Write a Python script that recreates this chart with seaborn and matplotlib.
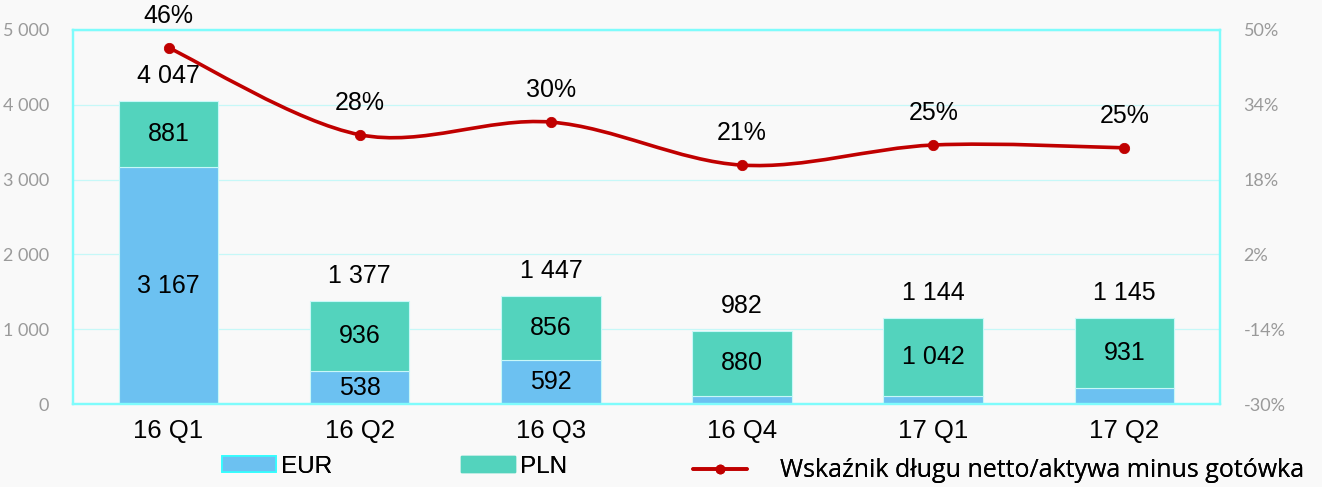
import matplotlib.pyplot as plt
import seaborn as sns
import pandas as pd
from matplotlib import font_manager
from matplotlib.textpath import TextPath
from matplotlib.path import Path
from matplotlib.patches import PathPatch, Patch
from matplotlib.lines import Line2D
from matplotlib.ticker import FuncFormatter

sns.set_style("white")
plt.rcParams["text.color"] = "black"

# Dane
kwartaly = ["16 Q1", "16 Q2", "16 Q3", "16 Q4", "17 Q1", "17 Q2"]
eur = [3166, 441, 591, 102, 102, 214]
pln = [881, 936, 856, 880, 1042, 931]
eur_etykiety = ["3 167", "538", "592", "", "", ""]
pln_etykiety = ["881", "936", "856", "880", "1 042", "931"]
suma_etykiety = ["4 047", "1 377", "1 447", "982", "1 144", "1 145"]
wskaznik = [46.2, 27.6, 30.3, 21.1, 25.4, 24.8]
wskaznik_etykiety = ["46%", "28%", "30%", "21%", "25%", "25%"]
legenda_teksty = ["EUR", "PLN", "Wskaźnik długu netto/aktywa minus gotówka"]

df = pd.DataFrame({"kw": kwartaly, "EUR": eur, "PLN": pln})
suma = [e + p for e, p in zip(eur, pln)]

tlo = "#f9f9f9"
kol_eur = "#6cc1f1"
kol_pln = "#53d3bd"
kol_linia = "#c00000"
kol_ramka = "#7ffcfc"
kol_os = "#9a9a9a"
DPI = 100

# czcionka opisu wskaznika - rozmiar dobrany do szerokosci ok. 538 px
opis_font = font_manager.FontProperties(family=["Open Sans", "Noto Sans", "DejaVu Sans"], size=10)
szer = TextPath((0, 0), legenda_teksty[2], prop=opis_font).get_extents().width
opis_rozmiar = min(18, 10 * 538 / (szer * DPI / 72))
opis_font.set_size(opis_rozmiar)
kod_font = font_manager.FontProperties(family="Liberation Sans", size=17.5)

fig = plt.figure(figsize=(13.22, 4.87), dpi=DPI, facecolor=tlo)
ax = fig.add_axes([0.0552, 0.1704, 0.8676, 0.768])
ax.set_facecolor(tlo)

sns.barplot(data=df, x="kw", y="EUR", color=kol_eur, width=0.52, ax=ax,
            edgecolor="#c8f8f8", linewidth=0.8, saturation=1, zorder=2)
sns.barplot(data=df, x="kw", y="PLN", color=kol_pln, width=0.52, ax=ax,
            bottom=eur, edgecolor="#c8f8f8", linewidth=0.8, saturation=1, zorder=2)

ax.set_ylim(0, 5000)
ax.set_xlim(-0.5, 5.5)
ax.set_yticks(range(0, 5001, 1000))
ax.yaxis.set_major_formatter(FuncFormatter(lambda v, p: f"{int(v):,}".replace(",", " ")))
ax.set_xlabel("")
ax.set_ylabel("")
ax.grid(axis="y", color="#c6f8f8", linewidth=0.9, zorder=0)
ax.set_axisbelow(True)
for s in ax.spines.values():
    s.set_color(kol_ramka)
    s.set_linewidth(1.6)
ax.tick_params(axis="y", length=0, pad=17, labelsize=13, labelcolor=kol_os)
ax.tick_params(axis="x", length=0, pad=11, labelsize=18.5, labelcolor="black")
for t in ax.get_yticklabels():
    t.set_family(["Lato", "DejaVu Sans"])
for t in ax.get_xticklabels():
    t.set_family(["Liberation Sans", "DejaVu Sans"])

# etykiety w slupkach
for i in range(len(kwartaly)):
    if eur_etykiety[i]:
        ax.text(i, eur[i] / 2, eur_etykiety[i], ha="center", va="center",
                fontsize=18, family="Liberation Sans", zorder=4)
    ax.text(i, eur[i] + pln[i] / 2, pln_etykiety[i], ha="center", va="center",
            fontsize=18, family="Liberation Sans", zorder=4)
    ax.annotate(suma_etykiety[i], (i, suma[i]), xytext=(0, 18), textcoords="offset points",
                ha="center", va="center", fontsize=18, family="Liberation Sans", zorder=4)

# wskaznik na prawej osi
ax2 = ax.twinx()
ax2.set_ylim(-30, 50)
ax2.set_yticks(range(-30, 51, 16))
ax2.yaxis.set_major_formatter(FuncFormatter(lambda v, p: f"{int(v)}%"))
ax2.tick_params(axis="y", length=0, pad=17, labelsize=13, labelcolor=kol_os)
for t in ax2.get_yticklabels():
    t.set_family(["Lato", "DejaVu Sans"])
for s in ax2.spines.values():
    s.set_color(kol_ramka)
    s.set_linewidth(1.6)
ax2.grid(False)

# wygladzona linia (krzywe Beziera przez punkty)
xs = list(range(len(wskaznik)))
pts = list(zip(xs, wskaznik))
verts = [pts[0]]
codes = [Path.MOVETO]
n = len(pts)
for i in range(n - 1):
    p0 = pts[i - 1] if i > 0 else pts[i]
    p1, p2 = pts[i], pts[i + 1]
    p3 = pts[i + 2] if i + 2 < n else pts[i + 1]
    c1 = (p1[0] + (p2[0] - p0[0]) / 6, p1[1] + (p2[1] - p0[1]) / 6)
    c2 = (p2[0] - (p3[0] - p1[0]) / 6, p2[1] - (p3[1] - p1[1]) / 6)
    verts += [c1, c2, p2]
    codes += [Path.CURVE4] * 3
ax2.add_patch(PathPatch(Path(verts, codes), facecolor="none", edgecolor=kol_linia,
                        linewidth=2.6, zorder=3))
sns.scatterplot(x=xs, y=wskaznik, color=kol_linia, s=55, edgecolor=kol_linia, ax=ax2, zorder=4)
for i, lab in enumerate(wskaznik_etykiety):
    ax2.annotate(lab, (i, wskaznik[i]), xytext=(0, 23), textcoords="offset points",
                 ha="center", va="center", fontsize=18, family="Liberation Sans")

# legenda - trzy osobne wpisy
wpisy = [
    (Patch(facecolor=kol_eur, edgecolor="#33ffff", linewidth=1.2), 222, 5, 0.042, kod_font),
    (Patch(facecolor=kol_pln, edgecolor=kol_pln), 461, 5, 0.042, kod_font),
    (Line2D([0], [0], color=kol_linia, linewidth=2.6, marker="o", markersize=6), 693, 33, 0.034,
     opis_font),
]
for (uchwyt, x0, odstep, y0, fp), tekst in zip(wpisy, legenda_teksty):
    px = fp.get_size_in_points() * DPI / 72
    leg = fig.legend([uchwyt], [tekst], loc="center left", bbox_to_anchor=(x0 / 1322, y0),
                     frameon=False, handlelength=54 / px, handleheight=15 / px,
                     handletextpad=odstep / px, borderpad=0, borderaxespad=0, prop=fp)
    fig.add_artist(leg)

fig.savefig("out.png", dpi=DPI, facecolor=tlo)
